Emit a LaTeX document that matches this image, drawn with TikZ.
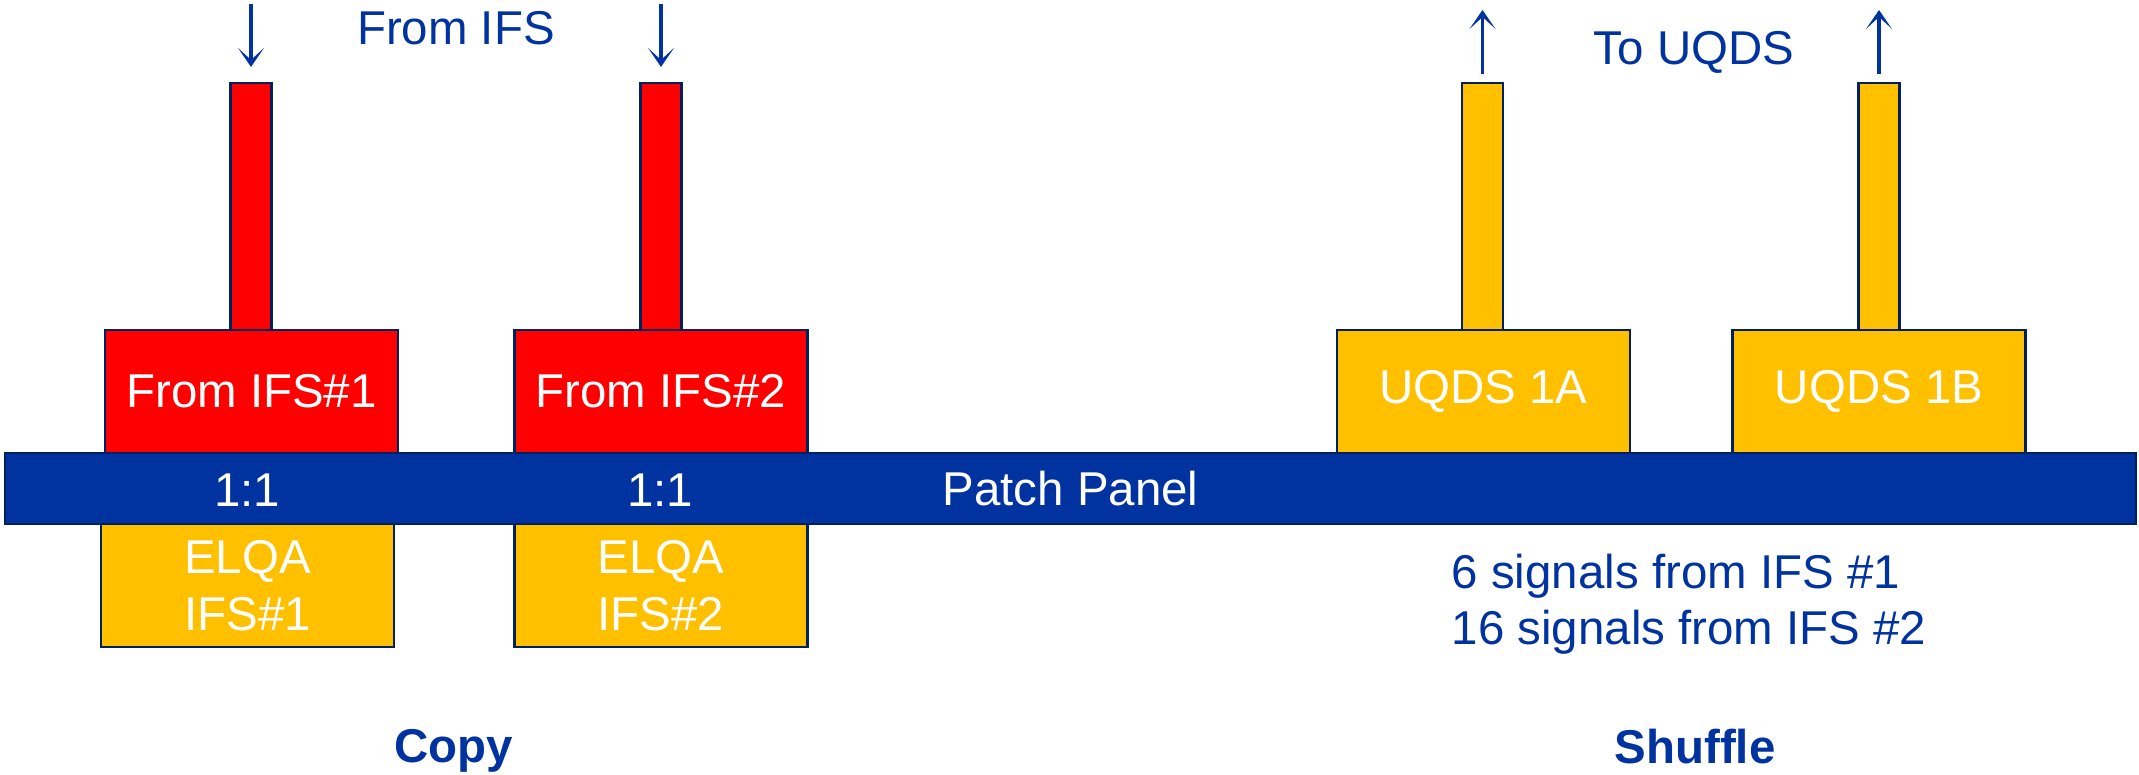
\documentclass[tikz,border=0pt]{standalone}
\usepackage{fontspec}
\setmainfont{Liberation Sans}
\usepackage{tikz}
\usetikzlibrary{positioning, arrows.meta}
\definecolor{panelblue}{RGB}{0,51,160}
\definecolor{framenavy}{RGB}{0,32,96}
\definecolor{ifsred}{RGB}{255,0,0}
\definecolor{uqdsyellow}{RGB}{255,192,0}
\newcommand{\diagfont}{\fontsize{13.5}{16.2}\selectfont}

\begin{document}
\begin{tikzpicture}[
    box/.style={rectangle, draw=framenavy, line width=0.6pt, text=white, inner sep=0pt,
                minimum width=2.93cm, minimum height=1.23cm, align=center, font=\diagfont},
    redbox/.style={box, fill=ifsred},
    yellowbox/.style={box, fill=uqdsyellow},
    stem/.style={box, minimum width=0.41cm, minimum height=2.47cm},
    arrow/.style={-{Stealth[length=0.19cm, width=0.26cm, inset=0.12cm]}, line width=0.9pt, panelblue},
    label/.style={text=panelblue, inner sep=0pt, anchor=base, font=\diagfont}
]
    \useasboundingbox (0,0) rectangle (21.39,7.75);

    % Patch panel
    \node[box, fill=panelblue, minimum width=21.31cm, minimum height=0.71cm] (panel) at (10.705,2.865) {Patch Panel};

    % Inputs from IFS
    \node[redbox] (ifs1) at (2.515,3.835) {From IFS\#1};
    \node[redbox] (ifs2) at (6.61,3.835) {From IFS\#2};
    \node[stem, fill=ifsred] (cable1) at (2.51,5.685) {};
    \node[stem, fill=ifsred] (cable2) at (6.61,5.685) {};

    % ELQA copies
    \node[yellowbox] (elqa1) at (2.475,1.895) {ELQA\\IFS\#1};
    \node[yellowbox] (elqa2) at (6.61,1.895) {ELQA\\IFS\#2};

    % Outputs to UQDS
    \node[yellowbox] (uqdsA) at (14.835,3.835) {UQDS 1A};
    \node[yellowbox] (uqdsB) at (18.79,3.835) {UQDS 1B};
    \node[stem, fill=uqdsyellow] (cableA) at (14.825,5.685) {};
    \node[stem, fill=uqdsyellow] (cableB) at (18.79,5.685) {};

    % Cable ends
    \coordinate (in1) at (2.51,7.71);
    \coordinate (in2) at (6.61,7.71);
    \coordinate (outA) at (14.825,7.65);
    \coordinate (outB) at (18.79,7.65);

    % Connections
    \draw[arrow, shorten >=0.15cm] (in1) -- (cable1);
    \draw[arrow, shorten >=0.15cm] (in2) -- (cable2);
    \draw[arrow, shorten <=0.08cm] (cableA) -- (outA);
    \draw[arrow, shorten <=0.08cm] (cableB) -- (outB);

    % Labels
    \node[label] (fromifs) at (4.56,7.30) {From IFS};
    \node[label] (touqds) at (16.94,7.10) {To UQDS};
    \node[label, text=white] (map1) at (2.47,2.68) {1:1};
    \node[label, text=white] (map2) at (6.60,2.68) {1:1};
    \node[label, anchor=base west, align=left] (signals) at (14.51,1.30) {6 signals from IFS \#1\\16 signals from IFS \#2};
    \node[label, font=\diagfont\bfseries] (copy) at (4.54,0.12) {Copy};
    \node[label, font=\diagfont\bfseries] (shuffle) at (16.95,0.11) {Shuffle};
\end{tikzpicture}
\end{document}
